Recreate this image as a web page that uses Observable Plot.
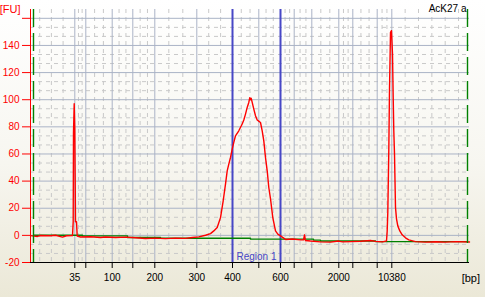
<!DOCTYPE html>
<html><head><meta charset="utf-8">
<script src="https://cdn.jsdelivr.net/npm/d3@7"></script>
<script src="https://cdn.jsdelivr.net/npm/@observablehq/plot@0.6"></script>
<style>
html,body{margin:0;padding:0;}
body{width:485px;height:297px;overflow:hidden;background:linear-gradient(to bottom,#ffffff 0%,#f7f6f0 55%,#ebe8d7 100%);font-family:"Liberation Sans",Arial,sans-serif;}
#chart svg{display:block;}
</style></head><body><div id="chart"></div>
<script>
// ---- data ----
const sampleName = "AcK27 a";
const yUnit = "[FU]";
const xUnit = "[bp]";
const ladderSizes = [35, 50, 100, 150, 200, 300, 400, 500, 600, 700, 1000, 2000, 3000, 7000, 10380];
const ladderTimes = [48.86, 51.06, 56.34, 60.46, 64.86, 73.26, 80.4, 85.66, 90.0, 92.74, 96.26, 101.66, 104.46, 109.34, 112.26];
const labeledSizes = [35, 100, 200, 300, 400, 600, 2000, 10380];
const yTicks = [-20, 0, 20, 40, 60, 80, 100, 120, 140, 160];
const regionName = "Region 1";
const regionSizes = [400, 600];
const integrationTimes = [40.6, 127.4];
const traceTime = [40.0, 41.4, 42.0, 44.0, 45.0, 46.4, 47.2, 48.4, 48.54, 48.6, 48.74, 48.86, 49.0, 49.2, 49.34,
  50.0, 52.0, 54.0, 55.0, 57.0, 59.0, 61.0, 63.0, 65.0, 67.0, 69.0, 71.0, 72.4, 73.66,
  75.0, 76.0, 76.66, 77.34, 78.0, 78.54, 79.0, 79.34, 79.66, 80.0, 80.34, 80.66, 81.0, 81.66, 82.34, 82.66,
  83.0, 83.34, 83.66, 83.86, 84.0, 84.14, 84.34, 84.66, 85.0, 85.34, 85.7, 86.0, 86.34, 86.66, 87.0, 87.34,
  87.66, 88.0, 88.46, 89.0, 89.46, 90.0, 91.0, 92.4, 94.0, 94.6, 94.8, 95.0, 96.0, 98.0, 100.0, 101.6, 102.4,
  104.0, 106.0, 108.0, 109.0, 110.4, 111.2, 111.34, 111.46, 111.66, 111.8, 112.0, 112.2, 112.4, 112.54, 112.66,
  112.8, 113.0, 113.2, 113.46, 113.86, 114.34, 115.0, 115.66, 117.0, 119.0, 121.0, 123.0, 125.0, 127.8];
const traceFU = [-0.2, -0.8, -0.1, -0.3, 0.1, -1.3, -0.3, -0.2, 10, 76, 97, 78, 10, 10, -0.5,
  -1.2, -1.0, -1.6, -1.2, -1.6, -1.3, -1.8, -2.3, -2.0, -2.4, -2.0, -2.2, -1.6, -1.1,
  0.1, 1.3, 3.3, 5.8, 13.1, 25.5, 37.8, 47.6, 52.5, 57.4, 63.6, 68.5, 73.4, 77.1, 82.1, 85.0,
  89.4, 94.3, 98.0, 101.5, 100.0, 101.0, 98.0, 93.1, 88.2, 85.0, 84.0, 83.2, 77.1, 69.7, 57.4, 47.6,
  35.3, 27.0, 13.1, 3.3, 0.9, -0.4, -3.0, -2.7, -3.3, -3.3, 0.4, -3.8, -4.2, -4.8, -5.0, -4.2, -4.8,
  -4.6, -4.3, -3.8, -4.4, -4.8, -4.1, 3.3, 16.8, 62.4, 107.9, 149.7, 150.9, 133.7, 101.7, 77.1,
  59.9, 20.5, 12.2, 7.0, 3.3, 0.4, -1.8, -3.3, -4.6, -5.0, -4.7, -5.0, -4.6, -4.9];
const baselineTime = [40.6, 50.4, 59.4, 66.0, 84.0, 96.6, 98.0, 109.0, 127.4];
const baselineFU = [0.1, -0.4, -1.6, -2.1, -2.8, -3.5, -4.1, -4.6, -4.6];

// ---- derived tables ----
const trace = traceTime.map((t, i) => ({t, fu: traceFU[i]}));
const baseline = baselineTime.map((t, i) => ({t, fu: baselineFU[i]}));
const sizeAt = new Map(ladderTimes.map((t, i) => [t, ladderSizes[i]]));
const regionTimes = regionSizes.map(s => ladderTimes[ladderSizes.indexOf(s)]);
const xDomain = [40, 127.8];
const yDomain = [-20, 166.5];

// minor (dashed) vertical grid: thirds between ladder peaks, extended at the ends
const minorX = [];
for (let i = 0; i < ladderTimes.length - 1; i++) {
  const a = ladderTimes[i], b = ladderTimes[i + 1];
  minorX.push(a + (b - a) / 3, a + 2 * (b - a) / 3);
}
for (let t = ladderTimes[0] - 2.34; t > xDomain[0]; t -= 2.34) minorX.push(t);
for (let t = ladderTimes[ladderTimes.length - 1] + 2.67; t < xDomain[1] - 0.5; t += 2.67) minorX.push(t);
const minorY = [];
for (let v = -20; v < yDomain[1]; v += 20) { minorY.push(v + 20 / 3, v + 40 / 3); }

const blue = "#4747c6";
const gridSolid = "#aab3c6";
const gridDash = "#c9c9c9";

const chart = Plot.plot({
  width: 485, height: 297,
  marginLeft: 30, marginRight: 16, marginTop: 9, marginBottom: 35,
  style: {background: "transparent", fontFamily: "'Liberation Sans', Arial, sans-serif", fontSize: "10px", overflow: "visible"},
  x: {domain: xDomain, axis: null, label: null},
  y: {domain: yDomain, axis: null, label: null},
  marks: [
    Plot.ruleY(minorY.filter(v => v < yDomain[1]), {stroke: gridDash, strokeDasharray: "4,4", strokeWidth: 1}),
    Plot.ruleX(minorX, {stroke: gridDash, strokeDasharray: "4,4", strokeWidth: 1}),
    Plot.ruleY(yTicks.filter(v => v > -20), {stroke: gridSolid, strokeWidth: 1}),
    Plot.ruleX(ladderTimes, {stroke: gridSolid, strokeWidth: 1}),
    Plot.ruleX(regionTimes, {stroke: blue, strokeWidth: 2}),
    Plot.text([regionName], {x: d3.mean(regionTimes), y: yDomain[0], dy: -3, lineAnchor: "bottom", fill: blue, fontSize: 10}),
    Plot.line(baseline, {x: "t", y: "fu", stroke: "#008000", strokeWidth: 1.4, curve: "step-after"}),
    Plot.line(trace, {x: "t", y: "fu", stroke: "#ff0000", strokeWidth: 1.4}),
    Plot.ruleX(integrationTimes, {stroke: "#008000", strokeWidth: 1.4, strokeDasharray: "18,6"}),
    Plot.ruleX([xDomain[0]], {stroke: "#ff0000", strokeWidth: 1}),
    Plot.axisY({ticks: yTicks, tickSize: 8, tickPadding: 3, color: "#ff0000", fontSize: 10, label: null,
      tickFormat: d => d === 160 ? "" : String(d)}),
    Plot.ruleY([yDomain[0]], {stroke: "#000", strokeWidth: 1}),
    Plot.axisX({ticks: ladderTimes, tickSize: 6, tickPadding: 5.5, color: "#000", fontSize: 10, label: null,
      tickFormat: t => labeledSizes.includes(sizeAt.get(t)) ? String(sizeAt.get(t)) : ""}),
    Plot.text([sampleName], {frameAnchor: "top-right", dx: -3, dy: 2, textAnchor: "end", lineAnchor: "bottom", fill: "#000", fontSize: 10}),
    Plot.text([yUnit], {frameAnchor: "top-left", dx: -10, dy: 3, textAnchor: "end", lineAnchor: "bottom", fill: "#ff0000", fontSize: 11}),
    Plot.text([xUnit], {frameAnchor: "bottom-right", dx: 10.5, dy: 19.7, textAnchor: "end", lineAnchor: "bottom", fill: "#000", fontSize: 11})
  ]
});
document.getElementById("chart").appendChild(chart);
</script>
</body></html>
